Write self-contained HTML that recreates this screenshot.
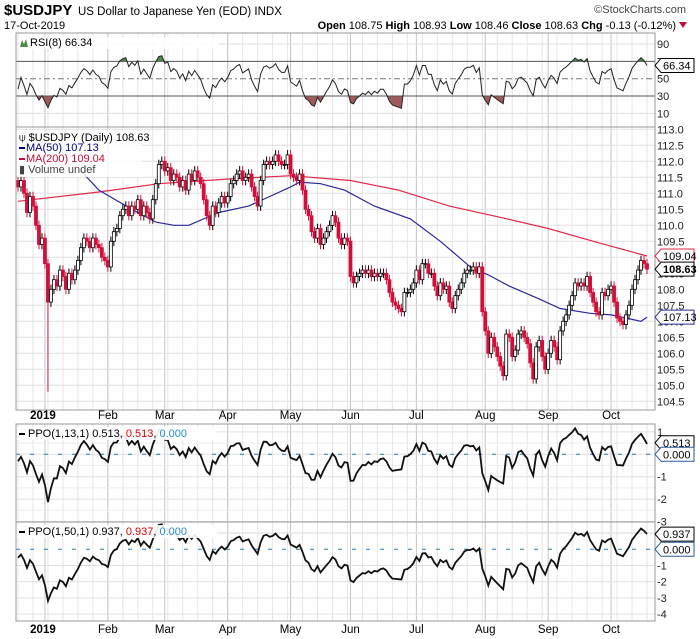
<!DOCTYPE html>
<html><head><meta charset="utf-8"><style>
body{margin:0;background:#fff;font-family:"Liberation Sans",sans-serif;}
svg{display:block}
</style></head><body>
<svg id="c" width="700" height="639" xmlns="http://www.w3.org/2000/svg" font-family="Liberation Sans, sans-serif">
<text x="4" y="15" font-size="15" font-weight="bold">$USDJPY</text>
<text x="78" y="15" font-size="11.5">US Dollar to Japanese Yen (EOD)  INDX</text>
<text x="4" y="29" font-size="11">17-Oct-2019</text>
<text x="686" y="13" font-size="11" text-anchor="end" fill="#444">©StockCharts.com</text>
<text x="676" y="29" font-size="11" text-anchor="end"><tspan font-weight="bold">Open</tspan> 108.75 <tspan font-weight="bold">High</tspan> 108.93 <tspan font-weight="bold">Low</tspan> 108.46 <tspan font-weight="bold">Close</tspan> 108.63 <tspan font-weight="bold">Chg</tspan> -0.13 (-0.12%)</text>
<path d="M679,22 L687,22 L683,28 Z" fill="#c0103a"/>
<g id="g"></g>
</svg>
<script>
const closes=[111.2,111.4,111.0,110.4,110.9,110.6,110.0,109.4,109.6,108.8,
107.6,108.0,108.3,108.1,108.6,108.4,108.0,108.5,108.3,108.6,
108.9,109.3,109.6,109.5,109.3,109.6,109.4,109.3,109.0,108.9,
108.7,109.5,109.8,109.9,110.3,110.5,110.6,110.3,110.6,110.5,
110.8,110.3,110.6,110.4,110.2,110.8,111.3,111.9,112.0,111.7,
111.8,111.4,111.6,111.5,111.2,111.4,111.1,111.6,111.4,111.7,
111.5,111.3,110.8,110.3,110.0,110.6,110.4,110.7,110.9,110.7,
110.9,111.3,111.4,111.6,111.7,111.4,111.5,111.6,111.2,110.9,
110.6,111.4,111.9,112.0,111.9,112.0,112.2,112.0,111.9,111.9,
112.2,111.6,111.5,111.4,111.6,111.1,110.5,110.3,109.8,109.6,
109.9,109.4,109.6,109.8,110.0,110.3,110.1,109.6,109.4,109.6,
109.5,108.4,108.2,108.4,108.5,108.6,108.5,108.6,108.4,108.5,
108.4,108.5,108.5,108.3,107.9,107.6,107.5,107.4,107.3,107.9,
107.9,108.0,108.2,108.6,108.3,108.8,108.8,108.5,108.5,108.1,
107.8,108.2,108.0,108.1,107.6,107.4,107.8,108.0,108.2,108.5,
108.6,108.6,108.7,108.5,108.7,107.3,106.7,106.0,106.5,106.2,
105.9,105.6,105.3,106.6,106.5,105.9,106.1,106.6,106.7,106.5,
106.3,105.7,105.2,106.2,106.4,105.9,105.5,106.0,106.4,106.2,
105.8,106.7,107.0,107.2,107.5,107.8,108.2,108.1,108.2,108.1,
108.4,107.9,107.6,107.3,107.2,107.9,107.8,108.0,108.1,107.6,
107.1,107.0,106.9,107.2,107.5,108.0,108.3,108.6,108.9,108.8,108.63];
const firstOpen=111.4;
const crashIdx=10, crashLow=104.8;
const ma50Idx=[21,27,38,46,52,57,67,77,84,91,94,101,109,119,131,141,151,157,164,174,181,191,198,203,208,210];
const ma50Val=[111.7,111.1,110.5,110.1,110.0,110.0,110.4,110.6,110.9,111.2,111.35,111.3,111.1,110.6,110.2,109.5,108.7,108.45,108.1,107.7,107.4,107.25,107.2,107.1,107.0,107.13];
const ma200Idx=[0,27,47,71,91,111,127,144,161,177,194,210];
const ma200Val=[110.75,111.04,111.3,111.45,111.55,111.4,111.1,110.6,110.25,109.9,109.45,109.04];
const priceTicks=[104.5,105.0,105.5,106.0,106.5,107.0,107.5,108.0,108.5,109.0,109.5,110.0,110.5,111.0,111.5,112.0,112.5,113.0];
const rsiTicks=[10,30,50,70,90];
const ppo1Ticks=[1,0,-1,-2,-3];
const ppo2Ticks=[-1,-2,-3,-4];
const monthNames=["2019","Feb","Mar","Apr","May","Jun","Jul","Aug","Sep","Oct"];
const monthIdx=[9,30,49,70,91,111,133,156,177,198];

const NS="http://www.w3.org/2000/svg";
const G=document.getElementById('g');
function el(tag,attrs,parent){const e=document.createElementNS(NS,tag);for(const k in attrs)e.setAttribute(k,attrs[k]);(parent||G).appendChild(e);return e;}
const L=16,R=655;
const N=closes.length;
const X=i=>18+i*(647-18)/(N-1);
const PY=p=>129.3+(113-p)*32;
const RY=v=>78.7-(v-50)*0.866;
const P1Y=v=>454.3-v*22.4;
const P2Y=v=>549.3-v*16.2;

const panels=[[33,127],[127,410],[424,522],[522,621]];
function vgrid(top,bot){
  for(let i=0;i<N;i+=5){const l=el('line',{x1:X(i),x2:X(i),y1:top,y2:bot,stroke:'#e6e6e6','stroke-width':1});
  }
  monthIdx.forEach(m=>{const l=el('line',{x1:X(m),x2:X(m),y1:top,y2:bot,stroke:'#c4c4c4','stroke-width':1});
  });
}
panels.forEach(p=>vgrid(p[0],p[1]));
function hline(y,name,color){const l=el('line',{x1:L,x2:R,y1:y,y2:y,stroke:color||'#e0e0e0','stroke-width':1});
return l;}
function rlabel(y,t,name){const e=el('text',{x:657,y:y+4,'font-size':11,fill:'#222'});e.textContent=t;
}
priceTicks.forEach(p=>{hline(PY(p),'price-gridline');rlabel(PY(p),p.toFixed(1),'price-tick-label');});
rsiTicks.forEach(v=>{if(v==10||v==90)hline(RY(v),'rsi-gridline');rlabel(RY(v),String(v),'rsi-tick-label');});
ppo1Ticks.forEach(v=>{hline(P1Y(v),'ppo1-gridline');rlabel(P1Y(v),String(v),'ppo1-tick-label');});
ppo2Ticks.forEach(v=>{hline(P2Y(v),'ppo2-gridline');rlabel(P2Y(v),String(v),'ppo2-tick-label');});
for(let v=-3.5;v<=1;v+=0.5){if(v%1)hline(P1Y(v),'ppo1-minor-gridline','#eeeeee');}
hline(P2Y(1),'ppo2-gridline');

function rsiCalc(c,n){const out=[38];let ag=0.12,al=0.14;
  for(let i=1;i<c.length;i++){const d=c[i]-c[i-1];const g=Math.max(d,0),l=Math.max(-d,0);
    ag=(ag*(n-1)+g)/n;al=(al*(n-1)+l)/n;
    out.push(100-100/(1+ag/(al||1e-9)));}
  return out;}
const rsi=rsiCalc(closes,8);
const rsiPts=rsi.map((v,i)=>[X(i),RY(v)]);
const defs=el('defs',{});
el('rect',{x:L,y:33,width:R-L,height:RY(70)-33},el('clipPath',{id:'above70'},defs));
el('rect',{x:L,y:RY(30),width:R-L,height:127-RY(30)},el('clipPath',{id:'below30'},defs));
const ptsStr=rsiPts.map(p=>p[0].toFixed(1)+','+p[1].toFixed(1)).join(' ');
const ob=el('polygon',{points:X(0)+','+RY(70)+' '+ptsStr+' '+X(N-1)+','+RY(70),fill:'#4a8a4a','clip-path':'url(#above70)'});

const os=el('polygon',{points:X(0)+','+RY(30)+' '+ptsStr+' '+X(N-1)+','+RY(30),fill:'#a05a5a','clip-path':'url(#below30)'});

hline(RY(70),'rsi-70-line','#555');hline(RY(30),'rsi-30-line','#555');
const m50=hline(RY(50),'rsi-50-line','#777');m50.setAttribute('stroke-dasharray','6,3,2,3');
const rl=el('polyline',{points:ptsStr,fill:'none',stroke:'#222','stroke-width':1});


function maLine(idx,val,color,name){const l=el('polyline',{points:idx.map((d,k)=>X(d).toFixed(1)+','+PY(val[k]).toFixed(1)).join(' '),fill:'none',stroke:color,'stroke-width':1.2});
}
maLine(ma200Idx,ma200Val,'#e0284a','ma200-line');
maLine(ma50Idx,ma50Val,'#2a2a9a','ma50-line');

for(let i=0;i<N;i++){
  const o=i?closes[i-1]:firstOpen,c=closes[i];const up=c>=o;
  const hi=Math.max(o,c)+0.15,lo=(i===crashIdx)?crashLow:Math.min(o,c)-0.15;
  const x=X(i);
  const w=el('line',{x1:x,x2:x,y1:PY(hi),y2:PY(lo),stroke:up?'#000':'#d0103a','stroke-width':1});
  
  const top=PY(Math.max(o,c)),h=Math.max(1,PY(Math.min(o,c))-top);
  const b=el('rect',{x:x-1.5,y:top,width:3,height:h,fill:up?'#fff':'#d0103a',stroke:up?'#000':'#d0103a','stroke-width':0.8});
  
}

function ema(c,n,seed){const k=2/(n+1);let e=seed;return c.map(v=>{e=v*k+e*(1-k);return e;});}
const e13=ema(closes,13,111.6),e50=ema(closes,50,111.8);
const ppo1=closes.map((v,i)=>(v-e13[i])/e13[i]*100);
const ppo2=closes.map((v,i)=>(v-e50[i])/e50[i]*100);
[[P1Y,'ppo1'],[P2Y,'ppo2']].forEach(([f,n])=>{const z=hline(f(0),n+'-signal-zero-line','#2a7aa8');z.setAttribute('stroke-dasharray','4,10');});
function ppoLine(arr,f,name){const l=el('polyline',{points:arr.map((v,i)=>X(i).toFixed(1)+','+f(v).toFixed(1)).join(' '),fill:'none',stroke:'#111','stroke-width':1.8});
}
ppoLine(ppo1,P1Y,'ppo1-line');ppoLine(ppo2,P2Y,'ppo2-line');

panels.forEach(p=>{const r=el('rect',{x:L,y:p[0],width:R-L,height:p[1]-p[0],fill:'none',stroke:'#999','stroke-width':1});
});
[[419,'price-month-label'],[633,'bottom-month-label']].forEach(([y,n])=>{
monthIdx.forEach((m,k)=>{const t=el('text',{x:X(m)+(k?0:-2),y:y,'font-size':11.5,'text-anchor':'middle','font-weight':k?'normal':'bold'});t.textContent=monthNames[k];
});});

function tag(y,t,color,bold,name){const g=el('g',{});
  el('path',{d:`M655,${y} L661,${y-7} L694,${y-7} L694,${y+7} L661,${y+7} Z`,fill:'#fff',stroke:color,'stroke-width':1},g);
  const e=el('text',{x:663,y:y+4,'font-size':11,fill:'#000','font-weight':bold?'bold':'normal'},g);e.textContent=t;}
tag(RY(rsi[N-1]),'66.34','#000',false,'rsi-value-tag');
tag(PY(ma200Val[ma200Val.length-1]),'109.04','#e0284a',false,'ma200-value-tag');
tag(PY(closes[N-1]),'108.63','#000',true,'close-value-tag');
tag(PY(ma50Val[ma50Val.length-1]),'107.13','#2a2a9a',false,'ma50-value-tag');
tag(P1Y(0.513),'0.513','#000',false,'ppo1-value-tag');
tag(P1Y(0),'0.000','#2a5a9a',false,'ppo1-signal-tag');
tag(P2Y(0.937),'0.937','#000',false,'ppo2-value-tag');
tag(P2Y(0),'0.000','#2a5a9a',false,'ppo2-signal-tag');

function legend(x,y,html,name){const t=el('text',{x:x,y:y,'font-size':11});t.innerHTML=html;return t;}
el('rect',{x:19,y:37,width:200,height:12,fill:'#fff',opacity:0.85});
el('path',{d:'M20,47 L22,40 L24,44 L26,39 L28,47 Z',fill:'#4a8a4a'});
legend(30,46,'RSI(8) 66.34','rsi-legend');
el('rect',{x:17,y:131,width:125,height:46,fill:'#fff',opacity:0.85});
legend(19,141,'⍦ $USDJPY (Daily) 108.63','price-legend');
el('rect',{x:19,y:147,width:6,height:2,fill:'#000080'});
legend(26,151,'<tspan fill="#000080">MA(50) 107.13</tspan>','ma50-legend');
el('rect',{x:19,y:158,width:6,height:2,fill:'#c0103a'});
legend(26,162,'<tspan fill="#c0103a">MA(200) 109.04</tspan>','ma200-legend');
legend(19,173,'<tspan fill="#444">▮ Volume undef</tspan>','volume-legend');
el('rect',{x:17,y:427,width:200,height:13,fill:'#fff',opacity:0.9});
el('rect',{x:19,y:433,width:6,height:2,fill:'#000'});
legend(28,437,'PPO(1,13,1) 0.513, <tspan fill="#e00000">0.513</tspan>, <tspan fill="#2a90c8">0.000</tspan>','ppo1-legend');
el('rect',{x:17,y:525,width:200,height:13,fill:'#fff',opacity:0.9});
el('rect',{x:19,y:531,width:6,height:2,fill:'#000'});
legend(28,535,'PPO(1,50,1) 0.937, <tspan fill="#e00000">0.937</tspan>, <tspan fill="#2a90c8">0.000</tspan>','ppo2-legend');
</script>
</body></html>
